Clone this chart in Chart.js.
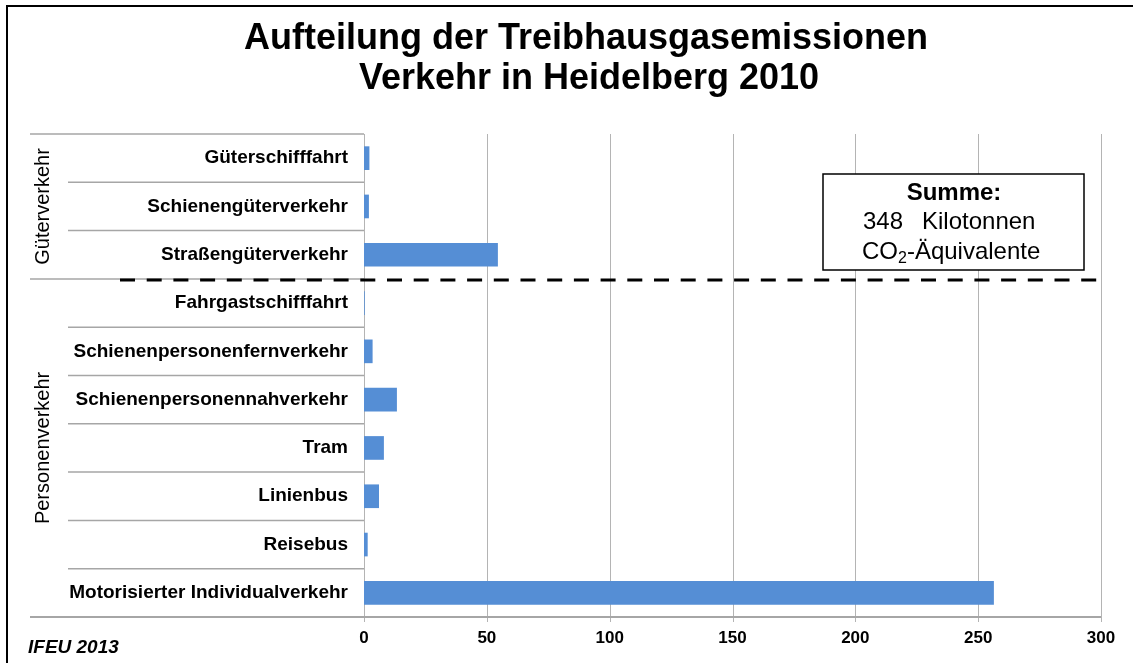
<!DOCTYPE html>
<html><head><meta charset="utf-8">
<script src="https://cdn.jsdelivr.net/npm/chart.js@4/dist/chart.umd.min.js"></script>
<style>html,body{margin:0;padding:0;background:#fff}#wrap{width:1133px;height:663px}</style>
</head><body><div id="wrap"><canvas id="c" width="1133" height="663"></canvas></div>
<script>
const categories = ['Güterschifffahrt','Schienengüterverkehr','Straßengüterverkehr','Fahrgastschifffahrt','Schienenpersonenfernverkehr','Schienenpersonennahverkehr','Tram','Linienbus','Reisebus','Motorisierter Individualverkehr'];
const values = [2.2, 2.0, 54.5, 0.3, 3.5, 13.4, 8.1, 6.1, 1.5, 256.4];
const groupNames = ['Güterverkehr','Personenverkehr'];
const groupSizes = [3, 7];
const xTickValues = [0, 50, 100, 150, 200, 250, 300];
const titleLines = ['Aufteilung der Treibhausgasemissionen','Verkehr in Heidelberg 2010'];
const sumHeading = 'Summe:';
const sumValue = '348';
const sumUnit = 'Kilotonnen';
const sumCo = 'CO';
const sumSub = '2';
const sumRest = '-Äquivalente';
const sourceText = 'IFEU 2013';

const FF = '"Liberation Sans", Arial, sans-serif';

const decor = {
  id: 'decor',
  beforeDatasetsDraw(chart) {
    const ctx = chart.ctx, ca = chart.chartArea, y = chart.scales.y, x = chart.scales.x;
    ctx.save();
    ctx.strokeStyle = '#b4b4b4'; ctx.lineWidth = 1;
    xTickValues.forEach(v => {
      const px = Math.round(x.getPixelForValue(v)) + 0.5;
      ctx.beginPath(); ctx.moveTo(px, ca.top); ctx.lineTo(px, ca.bottom + 5); ctx.stroke();
    });
    ctx.strokeStyle = '#a6a6a6';
    let bounds = [0]; let acc = 0;
    groupSizes.forEach(g => { acc += g; bounds.push(acc); });
    for (let i = 0; i <= categories.length; i++) {
      const py = (i === 0) ? ca.top : (i === categories.length ? ca.bottom : (y.getPixelForValue(i - 1) + y.getPixelForValue(i)) / 2);
      const isGroup = bounds.includes(i);
      ctx.beginPath();
      ctx.moveTo(isGroup ? 30 : 68, py);
      ctx.lineTo(i === categories.length ? ca.right : ca.left, py);
      ctx.lineWidth = (i === categories.length) ? 2 : 1.5;
      ctx.stroke();
    }
    ctx.restore();
  },
  afterDraw(chart) {
    const ctx = chart.ctx, ca = chart.chartArea, y = chart.scales.y, x = chart.scales.x;
    ctx.save();
    ctx.fillStyle = '#000';
    ctx.fillRect(6, 5, 1127, 2);
    ctx.fillRect(6, 5, 2, 658);
    ctx.textAlign = 'center'; ctx.textBaseline = 'middle';
    ctx.font = 'bold 36px ' + FF;
    ctx.fillText(titleLines[0], 586, 39);
    ctx.fillText(titleLines[1], 589, 79);
    let start = 0;
    ctx.font = '20px ' + FF;
    groupSizes.forEach((g, gi) => {
      const top = start === 0 ? ca.top : (y.getPixelForValue(start - 1) + y.getPixelForValue(start)) / 2;
      const end = start + g;
      const bot = end === categories.length ? ca.bottom : (y.getPixelForValue(end - 1) + y.getPixelForValue(end)) / 2;
      ctx.save();
      ctx.translate(43, (top + bot) / 2);
      ctx.rotate(-Math.PI / 2);
      ctx.fillText(groupNames[gi], 0, 0);
      ctx.restore();
      start = end;
    });
    const sepY = (y.getPixelForValue(groupSizes[0] - 1) + y.getPixelForValue(groupSizes[0])) / 2 + 1;
    ctx.strokeStyle = '#000'; ctx.lineWidth = 3; ctx.setLineDash([15, 11.7]);
    ctx.beginPath(); ctx.moveTo(120, sepY); ctx.lineTo(ca.right, sepY); ctx.stroke();
    ctx.setLineDash([]);
    const bx = 823, by = 174, bw = 261, bh = 96;
    ctx.fillStyle = '#fff'; ctx.fillRect(bx, by, bw, bh);
    ctx.strokeStyle = '#000'; ctx.lineWidth = 1.5; ctx.strokeRect(bx, by, bw, bh);
    ctx.fillStyle = '#000';
    ctx.textAlign = 'center';
    ctx.font = 'bold 24px ' + FF;
    ctx.fillText(sumHeading, 954, 193);
    ctx.font = '24px ' + FF;
    ctx.textAlign = 'left';
    ctx.fillText(sumValue, 863, 222);
    ctx.fillText(sumUnit, 922, 222);
    ctx.fillText(sumCo, 862, 252);
    const coW = ctx.measureText(sumCo).width;
    ctx.font = '16px ' + FF;
    ctx.fillText(sumSub, 862 + coW, 259);
    const subW = ctx.measureText(sumSub).width;
    ctx.font = '24px ' + FF;
    ctx.fillText(sumRest, 862 + coW + subW, 252);
    ctx.font = 'italic bold 19px ' + FF;
    ctx.textAlign = 'left';
    ctx.fillText(sourceText, 28, 648);
    ctx.restore();
  }
};

new Chart(document.getElementById('c'), {
  type: 'bar',
  data: {
    labels: categories,
    datasets: [{ data: values, backgroundColor: '#558ed5', borderWidth: 0, barPercentage: 0.49, categoryPercentage: 1 }]
  },
  options: {
    indexAxis: 'y',
    responsive: false,
    animation: false,
    devicePixelRatio: 1,
    layout: { padding: { top: 134, left: 6, right: 32, bottom: 0 } },
    plugins: { legend: { display: false }, tooltip: { enabled: false }, title: { display: false } },
    scales: {
      x: {
        min: 0, max: 300,
        afterBuildTicks: s => { s.ticks = xTickValues.map(v => ({ value: v })); },
        ticks: { font: { family: FF, size: 17, weight: 'bold' }, color: '#000', padding: 11 },
        grid: { display: false, drawTicks: false },
        border: { display: false },
        afterFit: s => { s.height = 46; }
      },
      y: {
        ticks: { font: { family: FF, size: 19, weight: 'bold' }, color: '#000', padding: 16, autoSkip: false },
        grid: { display: false, drawTicks: false },
        border: { display: false },
        afterFit: s => { s.width = 358; }
      }
    }
  },
  plugins: [decor]
});
</script>
</body></html>
